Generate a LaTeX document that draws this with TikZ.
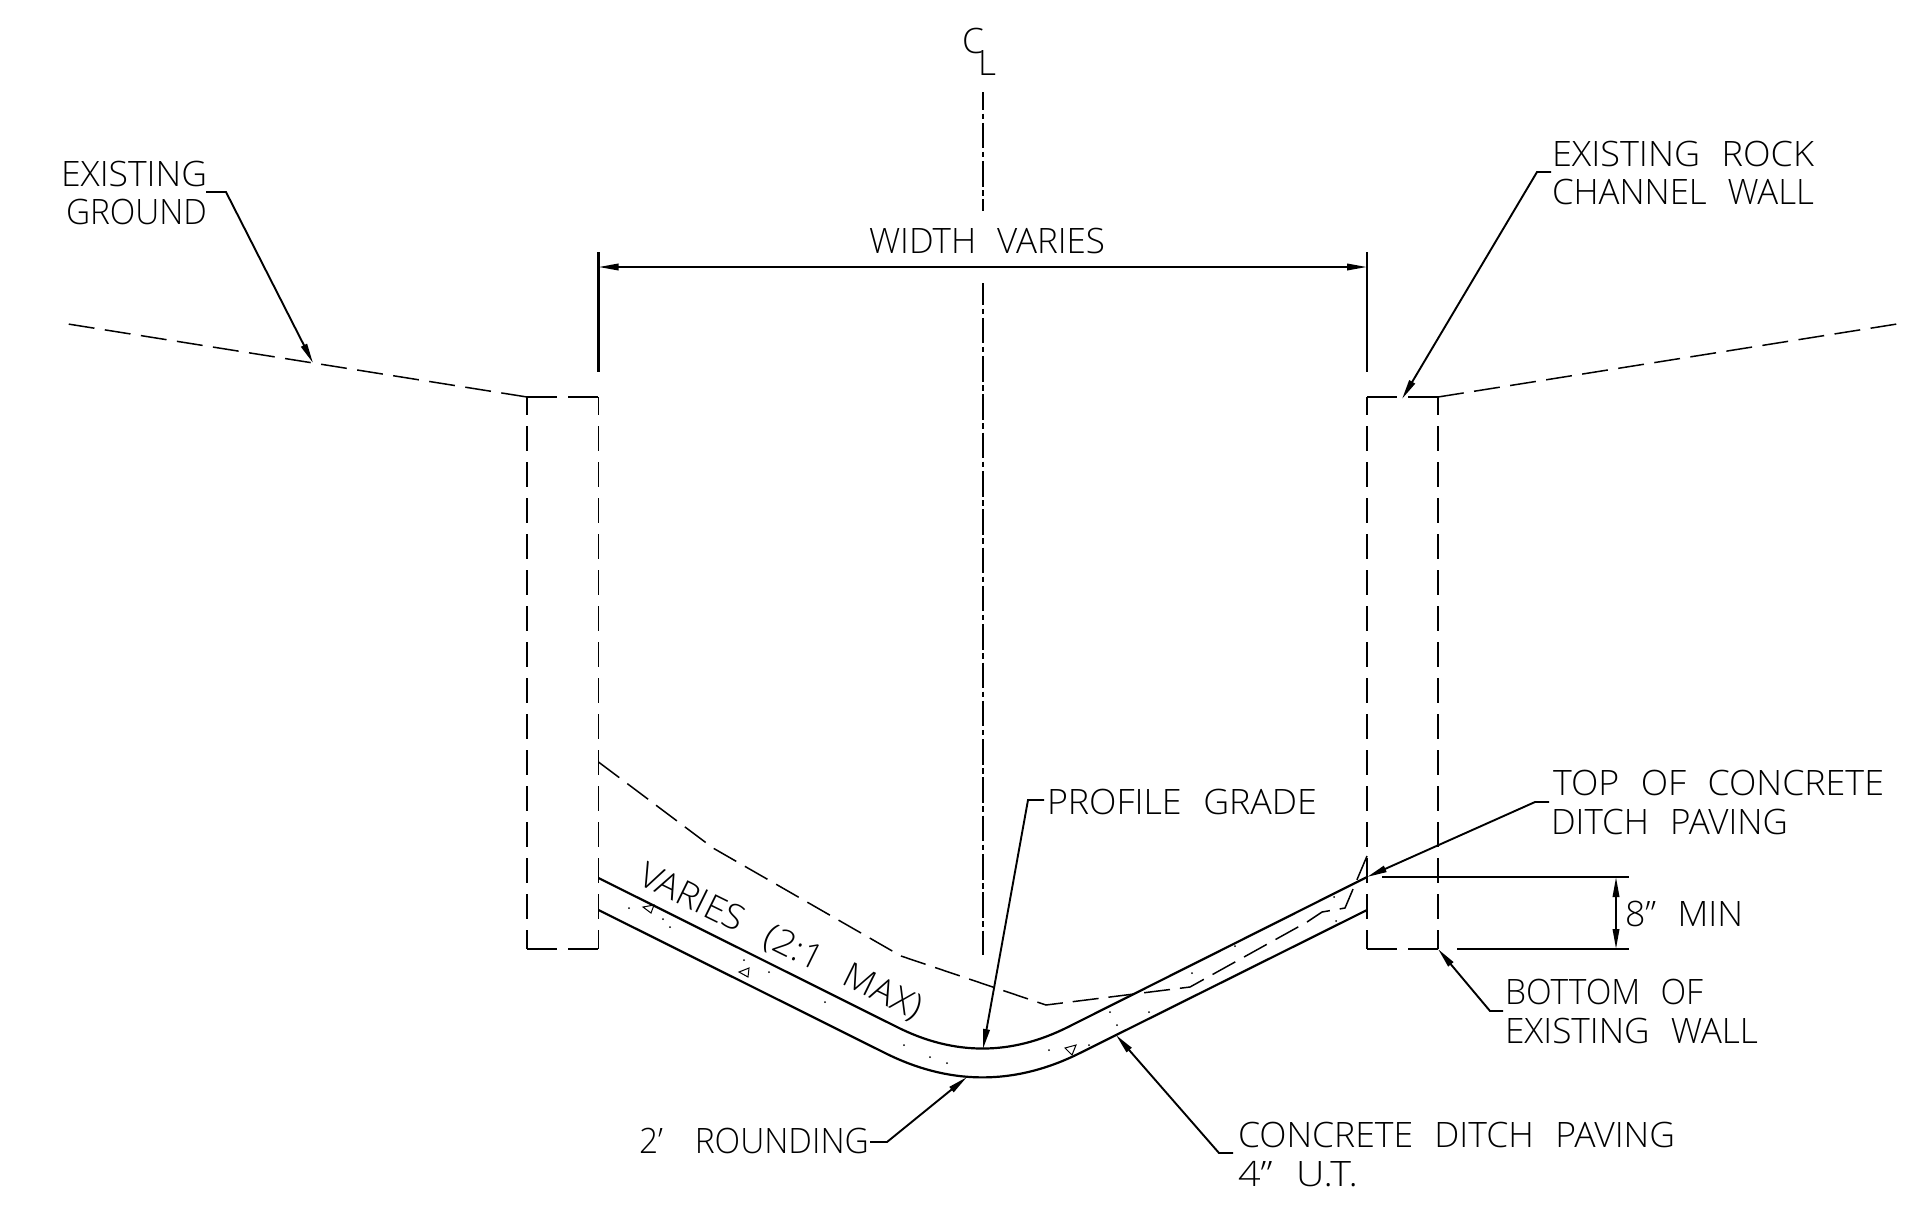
\documentclass[tikz,border=0pt]{standalone}
\usepackage{fontspec}
\usepackage{graphicx}
\setmainfont{Open Sans Light}
\usetikzlibrary{arrows.meta}
\newcommand{\fitw}[2]{\resizebox{#1pt}{\height}{\spaceskip=.6em\relax #2}}
\tikzset{
  x=1pt,y=-1pt,
  solidline/.style={line width=2.2pt,black},
  leader/.style={line width=1.9pt,black,-{Triangle[length=20pt,width=6.5pt]}},
  dimline/.style={line width=1.9pt,black,{Triangle[length=20pt,width=6.5pt]}-{Triangle[length=20pt,width=6.5pt]}},
  wall/.style={line width=1.6pt,black,dash pattern=on 25pt off 11pt,dash phase=7pt},
  wallh/.style={line width=1.8pt,black,dash pattern=on 30pt off 11pt},
  ground/.style={line width=1.5pt,black,dash pattern=on 26pt off 10.5pt},
  grade/.style={line width=1.5pt,black,dash pattern=on 26pt off 10pt},
  centerline/.style={line width=2pt,black,dash pattern=on 25.5pt off 3.5pt on 5.5pt off 3.8pt},
  lbl/.style={anchor=base west,inner sep=0pt,outer sep=0pt,font=\fontsize{35pt}{35pt}\selectfont},
  tri/.style={line width=1pt,black},
  dot/.style={circle,fill=black,inner sep=0pt,minimum size=2pt},
}
\begin{document}
\begin{tikzpicture}
\useasboundingbox (0,0) rectangle (1927,1227);
% coordinates
\coordinate (gl0) at (68,324);
\coordinate (gl1) at (527,397);
\coordinate (wlt) at (598.5,397);
\coordinate (wlb) at (598.5,949);
\coordinate (wllb) at (527,949);
\coordinate (wrt) at (1367,397);
\coordinate (wrb) at (1367,949);
\coordinate (wrrt) at (1438,397);
\coordinate (wrrb) at (1438,949);
\coordinate (gr1) at (1897,324);
% walls and ground
\draw[wall] (gl1) -- (wllb);
\draw[wall] (wlt) -- (wlb);
\draw[wall] (wrt) -- (wrb);
\draw[wall] (wrrt) -- (wrrb);
\draw[wallh] (gl1) -- (wlt);
\draw[wallh] (wllb) -- (wlb);
\draw[wallh] (wrt) -- (wrrt);
\draw[wallh] (wrb) -- (wrrb);
\draw[ground] (gl1) -- (gl0);
\draw[ground] (wrrt) -- (gr1);
% centre line
\coordinate (c0) at (982.5,92);
\coordinate (c1) at (982.5,211);
\coordinate (c2) at (982.5,283);
\coordinate (c3) at (982.5,955);
\draw[centerline,dash phase=7.5pt] (c0) -- (c1);
\draw[centerline,dash phase=3.5pt] (c2) -- (c3);
% slab
\coordinate (s1) at (598.5,878);
\coordinate (s2) at (897,1027);
\coordinate (s3) at (1068,1027);
\coordinate (s4) at (1367,877);
\coordinate (b1) at (598.5,910);
\coordinate (b2) at (885,1053);
\coordinate (b3) at (1080,1053);
\coordinate (b4) at (1367,910);
\draw[solidline] (s1) -- (s2) .. controls (954,1055.7) and (1011,1055.7) .. (s3) -- (s4);
\draw[solidline] (b1) -- (b2) .. controls (950,1085.5) and (1015,1085.5) .. (b3) -- (b4);
% top dashed line
\draw[grade] (598.5,762) -- (713,848) -- (901,956) -- (1046,1005) -- (1190,987) -- (1307,922) -- (1322,912) -- (1345,908) -- (1367,856);
% aggregate
\draw[tri] (643,907) -- (654,905) -- (651,913) -- cycle;
\draw[tri] (739,972) -- (749,968) -- (748,977) -- cycle;
\draw[tri] (1065,1048) -- (1076,1045) -- (1072,1055) -- cycle;
\foreach \q [count=\i] in {{629,908},{663,919},{670,927},{744,960},{769,972},{825,1002},{904,1045},{930,1057},{947,1063},{1049,1050},{1089,1045},{1110,1012},{1117,1025},{1149,1012},{1192,973},{1235,946},{1334,897},{1336,921}}
  \node[dot] (ag\i) at (\q) {};
% dimension width
\coordinate (e1) at (598.5,252);
\coordinate (e2) at (598.5,372);
\coordinate (e3) at (1367,252);
\coordinate (e4) at (1367,372);
\coordinate (d1) at (598.5,267);
\coordinate (d2) at (1367,267);
\draw[solidline] (e1) -- (e2);
\draw[solidline] (e3) -- (e4);
\draw[dimline] (d1) -- (d2);
% 8 min
\coordinate (m1) at (1382,877);
\coordinate (m2) at (1629,877);
\coordinate (m3) at (1457,949);
\coordinate (m4) at (1629,949);
\coordinate (m5) at (1616,877);
\coordinate (m6) at (1616,949);
\draw[solidline] (m1) -- (m2);
\draw[solidline] (m3) -- (m4);
\draw[dimline] (m5) -- (m6);
% labels
\node[lbl] (t1) at (61,186.5) {\fitw{146}{EXISTING}};
\node[lbl] (t2) at (66,224.5) {\fitw{141}{GROUND}};
\node[lbl] (t3) at (1552,166) {\fitw{262}{EXISTING ROCK}};
\node[lbl] (t4) at (1552,204) {\fitw{262}{CHANNEL WALL}};
\node[lbl] (t5) at (869,253) {\fitw{236}{WIDTH VARIES}};
\node[lbl] (t6) at (1047,814) {\fitw{270}{PROFILE GRADE}};
\node[lbl] (t7) at (1553,795) {\fitw{331}{TOP OF CONCRETE}};
\node[lbl] (t8) at (1551,834) {\fitw{237}{DITCH PAVING}};
\node[lbl] (t9) at (1625,926) {\fitw{118}{8” MIN}};
\node[lbl] (t10) at (1505,1004.5) {\fitw{198}{BOTTOM OF}};
\node[lbl] (t11) at (1505,1043) {\fitw{253}{EXISTING WALL}};
\node[lbl] (t12) at (1238,1147) {\fitw{437}{CONCRETE DITCH PAVING}};
\node[lbl] (t13) at (1238,1186) {\fitw{120}{4” U.T.}};
\node[lbl] (t14) at (639,1153) {\fitw{230}{2’\hspace{.95em}ROUNDING}};
\node[lbl,rotate=-26.2] (t15) at (636,883) {\fitw{311}{VARIES\hspace{.75em}(2:1\hspace{.75em}MAX)}};
\node[lbl] (t16) at (962,53.5) {C};
\node[lbl] (t17) at (978,75.5) {L};
% leaders
\coordinate (la) at (206,192);
\coordinate (lb) at (226,192);
\coordinate (lc) at (313,363);
\draw[leader] (la) -- (lb) -- (lc);
\coordinate (ld) at (1551,172);
\coordinate (le) at (1537,172);
\coordinate (lf) at (1402,399);
\draw[leader] (ld) -- (le) -- (lf);
\coordinate (lg) at (1044,800);
\coordinate (lh) at (1028,800);
\coordinate (li) at (983,1049);
\draw[leader] (lg) -- (lh) -- (li);
\coordinate (lj) at (1549,802);
\coordinate (lk) at (1535,802);
\coordinate (ll) at (1367,877);
\draw[leader] (lj) -- (lk) -- (ll);
\coordinate (lm) at (1503,1011);
\coordinate (ln) at (1490,1011);
\coordinate (lo) at (1438,949);
\draw[leader] (lm) -- (ln) -- (lo);
\coordinate (lp) at (1233,1153);
\coordinate (lq) at (1219,1153);
\coordinate (lr) at (1116,1035);
\draw[leader] (lp) -- (lq) -- (lr);
\coordinate (ls) at (870,1142);
\coordinate (lt) at (887,1142);
\coordinate (lu) at (967,1077);
\draw[leader] (ls) -- (lt) -- (lu);
\end{tikzpicture}
\end{document}
